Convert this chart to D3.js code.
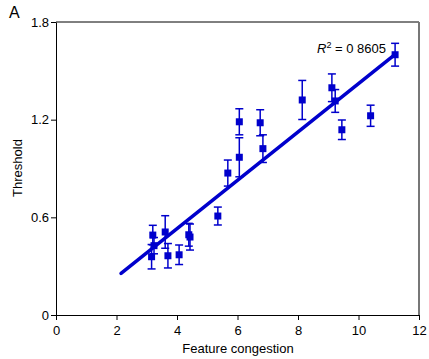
<!DOCTYPE html>
<html><head><meta charset="utf-8">
<script src="https://cdn.jsdelivr.net/npm/d3@7"></script>
<style>body{margin:0;background:#fff}svg{display:block}text{font-family:"Liberation Sans",Arial,sans-serif}</style>
</head><body><svg id="c" width="429" height="359"></svg>
<script>
const xVals = [3.20, 3.61, 3.24, 3.16, 3.70, 4.07, 4.39, 4.43, 5.35, 5.68, 6.06, 6.06, 6.75, 6.84, 8.14, 9.12, 9.23, 9.45, 10.40, 11.21];
const yVals = [0.491, 0.510, 0.426, 0.358, 0.364, 0.370, 0.493, 0.479, 0.608, 0.872, 0.969, 1.187, 1.181, 1.022, 1.321, 1.396, 1.315, 1.138, 1.224, 1.599];
const yErr  = [0.06, 0.10, 0.05, 0.075, 0.075, 0.06, 0.07, 0.08, 0.055, 0.08, 0.12, 0.08, 0.08, 0.085, 0.12, 0.085, 0.07, 0.06, 0.065, 0.07];
const fitX = [2.15, 11.2];
const fitY = [0.255, 1.60];
const xTicks = [0, 2, 4, 6, 8, 10, 12];
const yTicks = [0, 0.6, 1.2, 1.8];

const svg = d3.select("#c");
const L = 56, R = 419, T = 22, B = 315;
const x = d3.scaleLinear().domain([0, 12]).range([L, R]);
const y = d3.scaleLinear().domain([0, 1.8]).range([B, T]);
const blue = "#0000cc";

// frame
svg.append("line").attr("x1", L).attr("x2", R).attr("y1", T).attr("y2", T).attr("stroke", "#000").attr("stroke-width", 1);
svg.append("line").attr("x1", R).attr("x2", R).attr("y1", T).attr("y2", B).attr("stroke", "#777").attr("stroke-width", 2);

const xa = svg.append("g").attr("transform", `translate(0,${B})`)
  .call(d3.axisBottom(x).tickValues(xTicks).tickFormat(d3.format("d")).tickSize(5).tickSizeOuter(0));
const ya = svg.append("g").attr("transform", `translate(${L},0)`)
  .call(d3.axisLeft(y).tickValues(yTicks).tickFormat(d => d === 0 ? "0" : d3.format(".1f")(d)).tickSize(5).tickSizeOuter(0));
[xa, ya].forEach(g => {
  g.selectAll("path,line").attr("stroke", "#000").attr("stroke-width", 1);
  g.selectAll("text").attr("font-size", 13).attr("fill", "#000").attr("font-family", "Liberation Sans, Arial, sans-serif");
});
xa.selectAll("text").attr("dy", "0.9em");
ya.selectAll("text").attr("dx", "1px");

// error bars
const pts = xVals.map((v, i) => ({x: v, y: yVals[i], e: yErr[i]}));
const eb = svg.append("g").attr("stroke", blue).attr("stroke-width", 1.5);
pts.forEach(p => {
  eb.append("line").attr("x1", x(p.x)).attr("x2", x(p.x)).attr("y1", y(p.y + p.e)).attr("y2", y(p.y - p.e));
  eb.append("line").attr("x1", x(p.x) - 4).attr("x2", x(p.x) + 4).attr("y1", y(p.y + p.e)).attr("y2", y(p.y + p.e));
  eb.append("line").attr("x1", x(p.x) - 4).attr("x2", x(p.x) + 4).attr("y1", y(p.y - p.e)).attr("y2", y(p.y - p.e));
});

// fit line
svg.append("line").attr("x1", x(fitX[0])).attr("y1", y(fitY[0])).attr("x2", x(fitX[1])).attr("y2", y(fitY[1]))
  .attr("stroke", blue).attr("stroke-width", 3.5).attr("stroke-linecap", "round");

// markers
svg.append("g").selectAll("rect").data(pts).join("rect")
  .attr("x", d => x(d.x) - 3.5).attr("y", d => y(d.y) - 3.5).attr("width", 7).attr("height", 7).attr("fill", blue);

// texts
const r2 = svg.append("text").attr("x", 317).attr("y", 53).attr("font-size", 13).attr("fill", "#000");
r2.append("tspan").attr("font-style", "italic").text("R");
r2.append("tspan").attr("font-size", 9).attr("dy", -5).text("2");
r2.append("tspan").attr("dy", 5).text(" = 0 8605");

svg.append("text").attr("x", 238).attr("y", 353).attr("text-anchor", "middle").attr("font-size", 13).text("Feature congestion");
svg.append("text").attr("transform", "translate(22,168) rotate(-90)").attr("text-anchor", "middle").attr("font-size", 13).text("Threshold");
svg.append("text").attr("x", 9).attr("y", 18).attr("font-size", 16).text("A");
</script></body></html>
